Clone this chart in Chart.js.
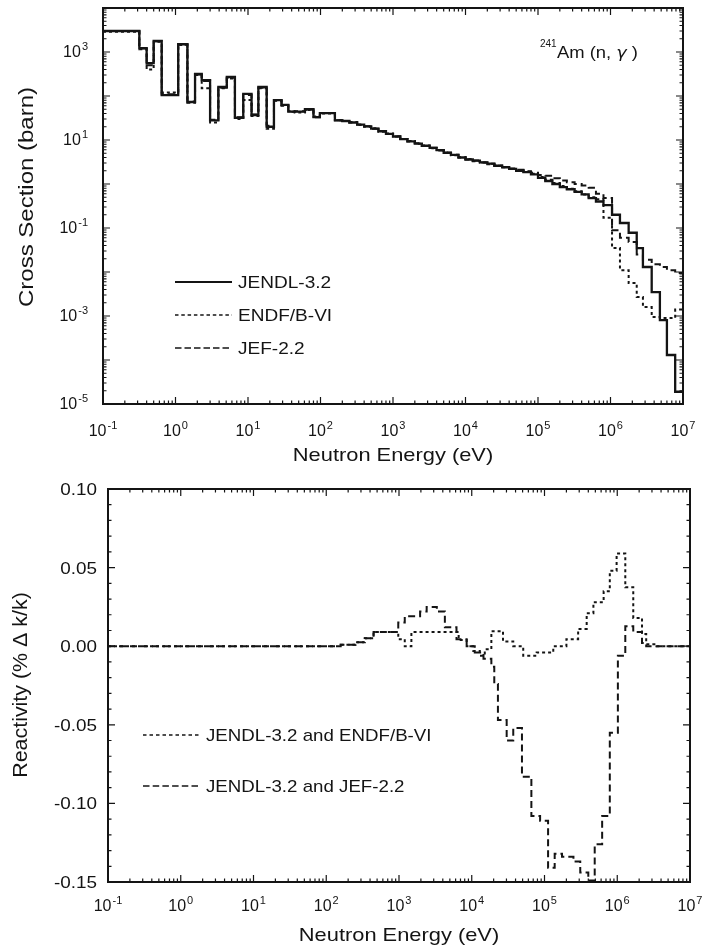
<!DOCTYPE html>
<html>
<head>
<meta charset="utf-8">
<script src="https://cdn.jsdelivr.net/npm/chart.js@4"></script>
<style>
  body { margin: 0; background: #fff; width: 706px; height: 951px; position: relative; overflow: hidden; }
  canvas { position: absolute; left: 0; }
  #top { top: 0; }
  #bottom { top: 470px; }
</style>
</head>
<body>
<canvas id="top" width="706" height="470"></canvas>
<canvas id="bottom" width="706" height="481"></canvas>
<script>
// ---- top panel: 241Am (n,gamma) group cross sections, lower group bounds in eV (last = upper end)
const groupEnergy = [0.1, 0.317, 0.40, 0.50, 0.645, 1.09, 1.46, 1.86, 2.3, 3.0, 3.9, 5.1, 6.6, 8.6, 11.2, 13.9, 18.1, 22.8,
  29, 36, 44, 61, 80, 98, 158,
  200, 250, 320, 400, 500, 630, 800, 1000, 1260, 1580, 2000, 2500, 3200, 4000, 5000, 6300, 8000,
  1e4, 1.26e4, 1.58e4, 2e4, 2.5e4, 3.2e4, 4e4, 5e4, 6.3e4, 8e4, 1e5, 1.26e5, 1.58e5, 2e5, 2.5e5, 3.2e5, 4e5, 5e5, 6.3e5, 8e5,
  1.05e6, 1.35e6, 1.78e6, 2.3e6, 2.8e6, 3.7e6, 4.8e6, 6e6, 7.8e6, 1e7];

const jendl = [3000, 1230, 560, 1780, 105, 1500, 73, 316, 230, 28, 160, 270, 32, 112, 37, 160, 20, 81,
  63, 44, 44, 50, 33, 41, 28,
  27, 25, 22.4, 20.4, 18.2, 15.8, 13.8, 12, 10.5, 9.3, 8.3, 7.4, 6.6, 5.9, 5.1, 4.6, 4.0,
  3.6, 3.4, 3.1, 2.9, 2.6, 2.4, 2.2, 2.0, 1.86, 1.66, 1.38, 1.17, 1.0, 0.85, 0.76, 0.66, 0.58, 0.48, 0.40, 0.33,
  0.20, 0.13, 0.078, 0.035, 0.013, 0.0035, 8.1e-4, 1.3e-4, 1.9e-5, 1.9e-5];

const endf = [2900, 1150, 400, 1700, 120, 1450, 70, 300, 150, 25, 150, 250, 30, 81, 35, 150, 18, 78,
  60, 45, 42, 48, 34, 40, 28,
  27, 25.5, 22, 20, 18.5, 15.5, 14, 12, 10.5, 9.5, 8.2, 7.5, 6.5, 5.9, 5.2, 4.5, 4.0,
  3.7, 3.3, 3.1, 2.8, 2.6, 2.4, 2.2, 2.05, 1.9, 1.7, 1.45, 1.25, 1.05, 0.9, 0.78, 0.68, 0.58, 0.5, 0.45, 0.17,
  0.035, 0.011, 0.0056, 0.0027, 0.0016, 9.5e-4, 9e-4, 9e-4, 0.0014, 0.0014];

const jef = [3000, 1200, 500, 1750, 110, 1500, 75, 310, 220, 29, 155, 260, 33, 105, 38, 155, 21, 80,
  62, 44, 45, 49, 33, 41, 28,
  27, 25, 22.6, 20.6, 18, 16, 13.6, 12.2, 10.6, 9.2, 8.4, 7.3, 6.7, 5.8, 5.2, 4.6, 4.1,
  3.6, 3.4, 3.1, 2.9, 2.65, 2.45, 2.25, 2.1, 1.95, 1.8, 1.6, 1.55, 1.35, 1.2, 1.1, 1.0, 0.93, 0.82, 0.6, 0.48,
  0.089, 0.06, 0.048, 0.025, 0.019, 0.015, 0.013, 0.011, 0.0095, 0.0095];

// ---- bottom panel: reactivity differences (% dk/k), lower bounds in eV
const rhoEnergyEndf = [0.1, 158, 251, 339, 447, 977, 1200, 1480, 6610, 8510, 1.05e4, 1.29e4, 1.51e4, 1.86e4, 2.69e4,
  3.72e4, 5.1e4, 7.8e4, 1.32e5, 2.0e5, 2.9e5, 3.8e5, 4.7e5, 6.5e5, 7.9e5, 9.8e5, 1.29e6, 1.66e6, 2.19e6, 2.5e6, 3.5e6, 1e7];
const rhoEndf = [0, 0.001, 0.0025, 0.005, 0.009, 0.0045, 0, 0.009, 0.004, 0, -0.003, -0.006, -0.002, 0.0095, 0.003,
  0, -0.006, -0.004, 0, 0.0045, 0.011, 0.021, 0.028, 0.035, 0.048, 0.059, 0.0375, 0.018, 0.0077, 0.0013, 0, 0];

const rhoEnergyJef = [0.1, 158, 251, 339, 447, 977, 1200, 1950, 2400, 3310, 4270, 6170, 8510, 1.1e4, 1.45e4, 1.86e4,
  2.04e4, 2.29e4, 3.02e4, 3.72e4, 4.9e4, 6.6e4, 8.7e4, 1.12e5, 1.38e5, 1.74e5, 2.5e5, 3.1e5, 4.0e5, 4.9e5, 6.2e5,
  7.9e5, 1.02e6, 1.29e6, 1.66e6, 2.19e6, 2.5e6, 1e7];
const rhoJef = [0, 0.001, 0.0025, 0.005, 0.009, 0.015, 0.019, 0.022, 0.025, 0.022, 0.012, 0.0045, 0, -0.004, -0.008, -0.013,
  -0.024, -0.047, -0.060, -0.052, -0.083, -0.108, -0.111, -0.141, -0.132, -0.134, -0.137, -0.144, -0.149, -0.126, -0.108,
  -0.055, -0.006, 0.0127, 0.009, 0.002, 0, 0];

const xExponents = [-1, 0, 1, 2, 3, 4, 5, 6, 7];
const sigmaLabelExponents = [-5, -3, -1, 1, 3];
const rhoTicks = ['0.10', '0.05', '0.00', '-0.05', '-0.10', '-0.15'];

const INK = '#141414';
const FONT = '"Liberation Sans", Arial, Helvetica, sans-serif';

function pts(xs, ys) { return xs.map((x, i) => ({ x: x, y: ys[i] })); }

// draw text, horizontally stretched by sx
function put(ctx, s, x, y, size, sx, align, font) {
  ctx.save();
  ctx.font = font || (size + 'px ' + FONT);
  const w = ctx.measureText(s).width * sx;
  const x0 = align === 'right' ? x - w : align === 'center' ? x - w / 2 : x;
  ctx.translate(x0, y);
  ctx.scale(sx, 1);
  ctx.textAlign = 'left';
  ctx.textBaseline = 'alphabetic';
  ctx.fillStyle = INK;
  ctx.fillText(s, 0, 0);
  ctx.restore();
  return w;
}

function textWidth(ctx, s, size, sx) {
  ctx.save();
  ctx.font = size + 'px ' + FONT;
  const w = ctx.measureText(s).width * sx;
  ctx.restore();
  return w;
}

// "10" with a raised exponent
function pow10(ctx, e, x, y, align) {
  const base = 16, sup = 11, sx = 1.0;
  const es = String(e);
  const wb = textWidth(ctx, '10', base, sx);
  const we = textWidth(ctx, es, sup, sx);
  const w = wb + 1 + we;
  const x0 = align === 'right' ? x - w : x - w / 2;
  put(ctx, '10', x0, y, base, sx, 'left');
  put(ctx, es, x0 + wb + 1, y - 7, sup, sx, 'left');
}

function rotated(ctx, s, x, cy, size, sx) {
  ctx.save();
  ctx.translate(x, cy);
  ctx.rotate(-Math.PI / 2);
  put(ctx, s, 0, 0, size, sx, 'center');
  ctx.restore();
}

function frameAndTicks(ctx, a, xs, ys) {
  ctx.save();
  ctx.strokeStyle = INK;
  ctx.lineWidth = 1.2;
  ctx.beginPath();
  xs.forEach(t => {
    const len = t.major ? 7 : 3.5;
    ctx.moveTo(t.px, a.bottom); ctx.lineTo(t.px, a.bottom - len);
    ctx.moveTo(t.px, a.top); ctx.lineTo(t.px, a.top + len);
  });
  ys.forEach(t => {
    const len = t.major ? 7 : 3.5;
    ctx.moveTo(a.left, t.px); ctx.lineTo(a.left + len, t.px);
    ctx.moveTo(a.right, t.px); ctx.lineTo(a.right - len, t.px);
  });
  ctx.stroke();
  ctx.lineWidth = 2;
  ctx.strokeRect(a.left, a.top, a.right - a.left, a.bottom - a.top);
  ctx.restore();
}

function logTicks(scale, lo, hi) {
  const out = [];
  for (let e = lo; e <= hi; e++) {
    for (let m = 1; m <= 9; m++) {
      if (e === hi && m > 1) break;
      out.push({ px: scale.getPixelForValue(m * Math.pow(10, e)), major: m === 1 });
    }
  }
  return out;
}

function legendRow(ctx, x1, x2, y, dash, width, label, size, sx) {
  ctx.save();
  ctx.strokeStyle = INK;
  ctx.lineWidth = width;
  ctx.setLineDash(dash);
  ctx.beginPath();
  ctx.moveTo(x1, y); ctx.lineTo(x2, y);
  ctx.stroke();
  ctx.restore();
  put(ctx, label, x2 + 6, y + 6, size, sx, 'left');
}

const topDecor = {
  id: 'topDecor',
  afterDraw(chart) {
    const { ctx, chartArea: a, scales: { x, y } } = chart;
    frameAndTicks(ctx, a, logTicks(x, -1, 7), logTicks(y, -5, 4));
    xExponents.forEach(e => pow10(ctx, e, x.getPixelForValue(Math.pow(10, e)), a.bottom + 32, 'center'));
    sigmaLabelExponents.forEach(e => pow10(ctx, e, a.left - 15, y.getPixelForValue(Math.pow(10, e)) + 5, 'right'));
    put(ctx, 'Neutron Energy (eV)', (a.left + a.right) / 2, 461, 19, 1.15, 'center');
    rotated(ctx, 'Cross Section (barn)', 33, 197, 20, 1.2);
    legendRow(ctx, 175, 232, 282, [], 2.2, 'JENDL-3.2', 17, 1.12);
    legendRow(ctx, 175, 232, 315, [3.5, 2.8], 1.6, 'ENDF/B-VI', 17, 1.12);
    legendRow(ctx, 175, 232, 348, [6.5, 3], 1.6, 'JEF-2.2', 17, 1.12);
    // reaction label: superscript mass number, italic gamma
    put(ctx, '241', 540, 47, 10, 1.0, 'left');
    let cx = 557;
    cx += put(ctx, 'Am (n, ', cx, 58, 16, 1.15, 'left');
    cx += put(ctx, '\u03B3', cx, 58, 16, 1.1, 'left', 'italic 16px "DejaVu Sans", sans-serif');
    put(ctx, ' )', cx, 58, 16, 1.15, 'left');
  }
};

const bottomDecor = {
  id: 'bottomDecor',
  afterDraw(chart) {
    const { ctx, chartArea: a, scales: { x, y } } = chart;
    const yt = [];
    for (let i = -15; i <= 10; i++) yt.push({ px: y.getPixelForValue(i / 100), major: i % 5 === 0 });
    frameAndTicks(ctx, a, logTicks(x, -1, 7), yt);
    xExponents.forEach(e => pow10(ctx, e, x.getPixelForValue(Math.pow(10, e)), a.bottom + 29, 'center'));
    rhoTicks.forEach(s => put(ctx, s, a.left - 11, y.getPixelForValue(parseFloat(s)) + 6, 16, 1.18, 'right'));
    put(ctx, 'Neutron Energy (eV)', (a.left + a.right) / 2, 471, 19, 1.15, 'center');
    rotated(ctx, 'Reactivity (% \u0394 k/k)', 27, 215, 20, 1.07);
    legendRow(ctx, 143, 200, 265, [3.5, 3], 1.6, 'JENDL-3.2 and ENDF/B-VI', 17, 1.1);
    legendRow(ctx, 143, 200, 316, [6.5, 3.2], 1.6, 'JENDL-3.2 and JEF-2.2', 17, 1.1);
  }
};

function baseOptions(pad, yScale) {
  return {
    responsive: false,
    animation: false,
    devicePixelRatio: 1,
    layout: { padding: pad },
    elements: { point: { radius: 0 }, line: { borderCapStyle: 'butt' } },
    scales: {
      x: { type: 'logarithmic', min: 0.1, max: 1e7, display: false },
      y: Object.assign({ display: false }, yScale)
    },
    plugins: { legend: { display: false }, tooltip: { enabled: false } }
  };
}

new Chart(document.getElementById('top'), {
  type: 'line',
  data: {
    datasets: [
      { label: 'JENDL-3.2', data: pts(groupEnergy, jendl), borderColor: INK, borderWidth: 2.3, stepped: 'before' },
      { label: 'ENDF/B-VI', data: pts(groupEnergy, endf), borderColor: INK, borderWidth: 2, borderDash: [3, 3], stepped: 'before' },
      { label: 'JEF-2.2', data: pts(groupEnergy, jef), borderColor: INK, borderWidth: 2, borderDash: [7, 4], stepped: 'before' }
    ]
  },
  options: baseOptions({ left: 103, top: 8, right: 23, bottom: 66 }, { type: 'logarithmic', min: 1e-5, max: 1e4 }),
  plugins: [topDecor]
});

new Chart(document.getElementById('bottom'), {
  type: 'line',
  data: {
    datasets: [
      { label: 'JENDL-3.2 and ENDF/B-VI', data: pts(rhoEnergyEndf, rhoEndf), borderColor: INK, borderWidth: 2, borderDash: [3, 3], stepped: 'before' },
      { label: 'JENDL-3.2 and JEF-2.2', data: pts(rhoEnergyJef, rhoJef), borderColor: INK, borderWidth: 2, borderDash: [7, 4], stepped: 'before' }
    ]
  },
  options: baseOptions({ left: 108, top: 19, right: 16, bottom: 69 }, { type: 'linear', min: -0.15, max: 0.10 }),
  plugins: [bottomDecor]
});
</script>
</body>
</html>
